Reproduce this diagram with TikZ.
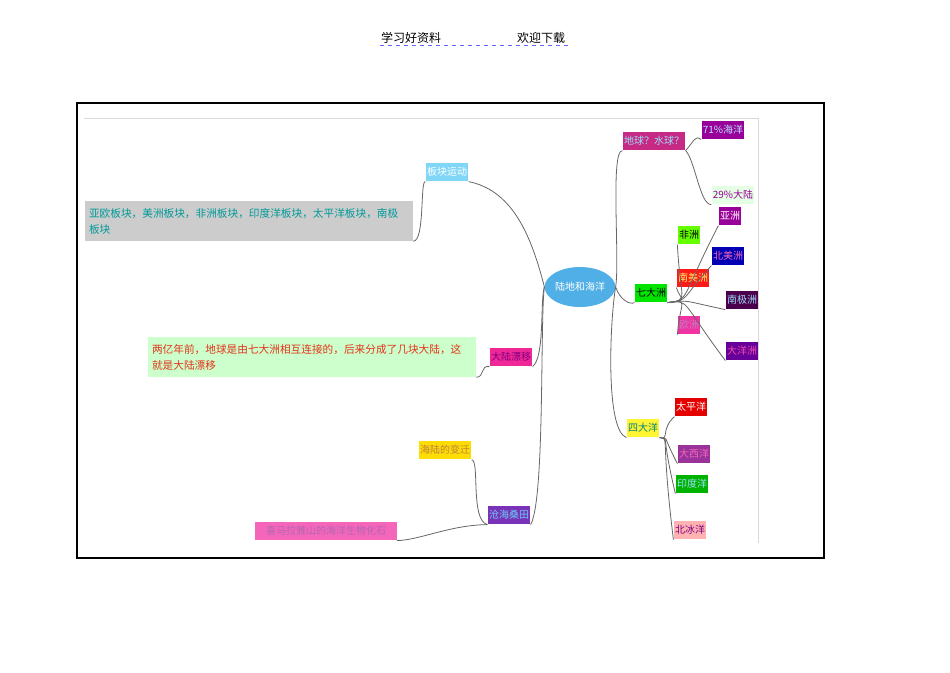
\documentclass[tikz,border=0pt]{standalone}
\usepackage{fontspec}
\usetikzlibrary{shapes.geometric}
\newfontfamily\cjk{Noto Sans CJK SC}
\begin{document}
\begin{tikzpicture}[x=0.75pt,y=-0.75pt,
 bx/.style={rectangle,inner sep=1pt,minimum height=14pt,font=\cjk\fontsize{7.5}{9}\selectfont},
 ln/.style={draw=gray!80!black,line width=0.6pt}]
\useasboundingbox (0,0) rectangle (950,672);
\node[font=\cjk\fontsize{9}{10}\selectfont] (h1) at (411,38) {学习好资料};
\node[font=\cjk\fontsize{9}{10}\selectfont] (h2) at (541,38) {欢迎下载};
\draw[blue!60,dashed,line width=0.4pt] (380,45) -- (568,45);
\draw[line width=1.2pt] (77,103) rectangle (824,558);
\draw[gray!30,line width=0.5pt] (84,118) -- (758,118) -- (758,543);
\node[ellipse,fill=cyan!80!blue!70,minimum width=48pt,minimum height=30pt,inner sep=0pt,text=white,font=\cjk\fontsize{7.5}{9}\selectfont] (c) at (580,287) {陆地和海洋};
% left
\node[bx,fill=cyan!50,text=white] (bk) at (447,172) {板块运动};
\node[bx,fill=gray!40,text=teal!80!cyan,text width=240pt,align=left,minimum height=30pt,inner sep=3pt,font=\cjk\fontsize{8}{12}\selectfont] (bkt) at (249,221) {亚欧板块，美洲板块，非洲板块，印度洋板块，太平洋板块，南极\\板块};
\node[bx,fill=magenta!80!pink,text=violet] (dl) at (511,357) {大陆漂移};
\node[bx,fill=green!20,text=red!60!brown,text width=240pt,align=left,minimum height=30pt,inner sep=3pt,font=\cjk\fontsize{8}{12}\selectfont] (dlt) at (312,357) {两亿年前，地球是由七大洲相互连接的，后来分成了几块大陆，这\\就是大陆漂移};
\node[bx,fill=violet!70!blue!80,text=cyan!60] (ch) at (509,515) {沧海桑田};
\node[bx,fill=yellow!80!orange,text=brown] (hl) at (445,450) {海陆的变迁};
\node[bx,fill=magenta!60,text=violet!60,minimum width=106pt] (xm) at (326,531) {喜马拉雅山的海洋生物化石};
% right
\node[bx,fill=magenta!80!black,text=cyan!40] (dq) at (654,141) {地球？水球？};
\node[bx,fill=violet!80!magenta,text=cyan!30] (h71) at (723,130) {71\%海洋};
\node[bx,fill=green!10,text=violet!80!magenta] (l29) at (733,195) {29\%大陆};
\node[bx,fill=green!90!black,text=black] (q) at (651,293) {七大洲};
\node[bx,fill=green!60!yellow,text=black] (fz) at (689,235) {非洲};
\node[bx,fill=violet!80!magenta,text=white] (yz) at (730,216) {亚洲};
\node[bx,fill=blue!70!black,text=magenta!60] (bm) at (728,256) {北美洲};
\node[bx,fill=red!90,text=yellow!60] (nm) at (693,278) {南美洲};
\node[bx,fill=violet!60!black,text=cyan!40] (nj) at (742,300) {南极洲};
\node[bx,fill=magenta!80,text=violet!50] (oz) at (689,325) {欧洲};
\node[bx,fill=violet!80!blue,text=magenta!70] (dy) at (742,351) {大洋洲};
\node[bx,fill=yellow!80,text=teal] (s) at (643,428) {四大洋};
\node[bx,fill=red!90!black,text=white] (tp) at (691,407) {太平洋};
\node[bx,fill=violet!80,text=magenta!60] (dx) at (694,454) {大西洋};
\node[bx,fill=green!70!black,text=cyan!40] (yd) at (692,484) {印度洋};
\node[bx,fill=red!30,text=violet] (bb) at (690,530) {北冰洋};
% connectors
\draw[ln] (c.west) .. controls (530,230) and (510,190) .. (bk.south east);
\draw[ln] (bk.south west) .. controls (420,180) and (425,241) .. (bkt.south east);
\draw[ln] (c.west) .. controls (540,300) and (545,357) .. (dl.south east);
\draw[ln] (dl.south west) .. controls (480,365) and (485,377) .. (dlt.south east);
\draw[ln] (c.west) .. controls (540,320) and (545,500) .. (ch.south east);
\draw[ln] (ch.south west) .. controls (470,520) and (480,460) .. (hl.south east);
\draw[ln] (ch.south west) .. controls (450,525) and (420,540) .. (xm.south east);
\draw[ln] (c.east) .. controls (620,260) and (610,150) .. (dq.south west);
\draw[ln] (c.east) .. controls (620,300) and (630,305) .. (q.south west);
\draw[ln] (c.east) .. controls (610,320) and (605,430) .. (s.south west);
\draw[ln] (dq.south east) .. controls (695,140) and (695,135) .. (h71.south west);
\draw[ln] (dq.south east) .. controls (695,160) and (700,205) .. (l29.south west);
\foreach \t in {fz,yz,bm,nm,nj,oz,dy}
  \draw[ln] (q.south east) .. controls (690,300) and (680,300) .. (\t.south west);
\foreach \t in {tp,dx,yd,bb}
  \draw[ln] (s.south east) .. controls (670,440) and (660,430) .. (\t.south west);
\end{tikzpicture}
\end{document}
